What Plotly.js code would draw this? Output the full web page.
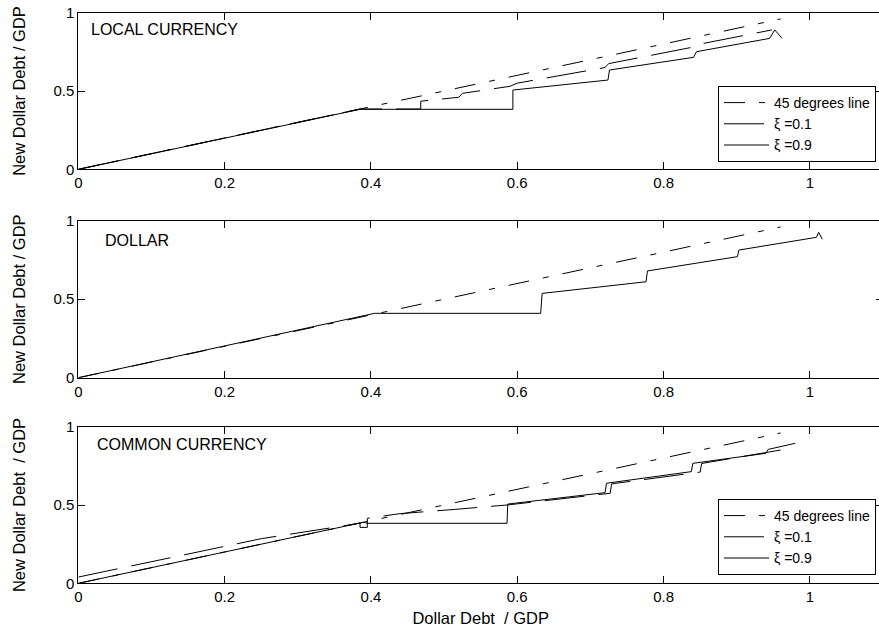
<!DOCTYPE html>
<html>
<head>
<meta charset="utf-8">
<script src="https://cdn.plot.ly/plotly-3.0.1.min.js"></script>
<style>
html, body { margin: 0; padding: 0; overflow: hidden; background: #fff; }
#chart { width: 884px; height: 631px; }
</style>
</head>
<body>
<div id="chart"></div>
<script>
// ---- data ----
const panelTitles = ["LOCAL CURRENCY", "DOLLAR", "COMMON CURRENCY"];
const legendNames = ["45 degrees line", "\u03BE =0.1", "\u03BE =0.9"];
const xTickVals = [0, 0.2, 0.4, 0.6, 0.8, 1];
const xTickText = ["0", "0.2", "0.4", "0.6", "0.8", "1"];
const yTickVals = [0, 0.5, 1];
const yTickText = ["0", "0.5", "1"];

// Panel 1: local currency
const local45X = [0, 0.96];
const local45Y = [0, 0.96];
const localXi01X = [0, 0.385, 0.468, 0.468, 0.52, 0.525, 0.59, 0.60, 0.72, 0.725, 0.84, 0.845, 0.948];
const localXi01Y = [0, 0.385, 0.385, 0.435, 0.46, 0.485, 0.53, 0.55, 0.65, 0.675, 0.78, 0.795, 0.89];
const localXi09X = [0, 0.385, 0.594, 0.594, 0.724, 0.726, 0.841, 0.845, 0.945, 0.952, 0.962];
const localXi09Y = [0, 0.383, 0.383, 0.506, 0.57, 0.634, 0.715, 0.751, 0.836, 0.89, 0.836];

// Panel 2: dollar
const dollar45X = [0, 0.96];
const dollar45Y = [0, 0.96];
const dollarXiX = [0, 0.405, 0.632, 0.634, 0.776, 0.778, 0.901, 0.903, 1.009, 1.012, 1.017];
const dollarXiY = [0, 0.41, 0.41, 0.537, 0.611, 0.68, 0.771, 0.813, 0.894, 0.926, 0.882];

// Panel 3: common currency
const common45X = [0, 0.96];
const common45Y = [0, 0.96];
const commonXi01X = [0, 0.25, 0.36, 0.385, 0.385, 0.395, 0.395, 0.44, 0.515, 0.54, 0.586, 0.727, 0.729, 0.85, 0.852, 0.96];
const commonXi01Y = [0.04, 0.285, 0.365, 0.385, 0.357, 0.357, 0.415, 0.445, 0.472, 0.483, 0.50, 0.575, 0.635, 0.71, 0.765, 0.851];
const commonXi09X = [0, 0.39, 0.395, 0.586, 0.587, 0.72, 0.722, 0.838, 0.84, 0.94, 0.943, 0.98];
const commonXi09Y = [0, 0.39, 0.383, 0.383, 0.506, 0.579, 0.639, 0.713, 0.766, 0.83, 0.855, 0.894];

// ---- styles ----
const FONT = "Liberation Sans, Arial, sans-serif";
const dash45 = "21px,14px,6px,14px";
const dashXi01 = "40px,14px";
const lineCol = "#000";

function tr(x, y, name, dash, xa, ya, leg, show) {
  return {
    x: x, y: y, name: name, type: "scatter", mode: "lines",
    line: { color: lineCol, width: 1, dash: dash },
    xaxis: xa, yaxis: ya, legend: leg, showlegend: show, hoverinfo: "skip"
  };
}

const traces = [
  tr(local45X, local45Y, legendNames[0], dash45, "x", "y", "legend", true),
  tr(localXi01X, localXi01Y, legendNames[1], dashXi01, "x", "y", "legend", true),
  tr(localXi09X, localXi09Y, legendNames[2], "solid", "x", "y", "legend", true),
  tr(dollar45X, dollar45Y, legendNames[0], dash45, "x2", "y2", "legend", false),
  tr(dollarXiX, dollarXiY, legendNames[2], "solid", "x2", "y2", "legend", false),
  tr(common45X, common45Y, legendNames[0], dash45, "x3", "y3", "legend2", true),
  tr(commonXi01X, commonXi01Y, legendNames[1], dashXi01, "x3", "y3", "legend2", true),
  tr(commonXi09X, commonXi09Y, legendNames[2], "solid", "x3", "y3", "legend2", true)
];

const W = 884, H = 631;
const xDom = [78.4 / W, 883 / W];
const yDoms = [
  [1 - 169.3 / H, 1 - 12.7 / H],
  [1 - 377.7 / H, 1 - 220.7 / H],
  [1 - 583.3 / H, 1 - 426.7 / H]
];

function xax(anchor, withTitle) {
  const a = {
    domain: xDom, anchor: anchor, range: [0, 1.1],
    tickmode: "array", tickvals: xTickVals, ticktext: xTickText,
    ticks: "inside", ticklen: 7, tickwidth: 1, tickcolor: "#000",
    showline: true, linecolor: "#000", linewidth: 1, mirror: "ticks",
    showgrid: false, zeroline: false, automargin: false,
    tickfont: { family: FONT, size: 15, color: "#000" }
  };
  if (withTitle) {
    a.title = { text: "Dollar Debt\u00A0 / GDP", font: { family: FONT, size: 16.5, color: "#000" }, standoff: 8 };
  }
  return a;
}
function yax(anchor, dom, titleText) {
  return {
    domain: dom, anchor: anchor, range: [0, 1],
    tickmode: "array", tickvals: yTickVals, ticktext: yTickText,
    ticks: "inside", ticklen: 7, tickwidth: 1, tickcolor: "#000",
    showline: true, linecolor: "#000", linewidth: 1, mirror: "ticks",
    showgrid: false, zeroline: false, automargin: false,
    tickfont: { family: FONT, size: 15, color: "#000" },
    title: { text: titleText, font: { family: FONT, size: 16.5, color: "#000" }, standoff: 23 }
  };
}

const legendStyle = {
  font: { family: FONT, size: 14, color: "#000" },
  bgcolor: "#fff", bordercolor: "#000", borderwidth: 1,
  xanchor: "right", yanchor: "bottom", traceorder: "normal",
  itemwidth: 45
};

const layout = {
  width: W, height: H,
  margin: { l: 0, r: 0, t: 0, b: 0, pad: 0 },
  paper_bgcolor: "#fff", plot_bgcolor: "#fff",
  font: { family: FONT, size: 15, color: "#000" },
  xaxis: xax("y", false),
  xaxis2: xax("y2", false),
  xaxis3: xax("y3", true),
  yaxis: yax("x", yDoms[0], "New Dollar Debt / GDP"),
  yaxis2: yax("x2", yDoms[1], "New Dollar Debt / GDP"),
  yaxis3: yax("x3", yDoms[2], "New Dollar Debt\u00A0 / GDP"),
  legend: Object.assign({ x: 876 / W, y: 1 - 162 / H }, legendStyle),
  legend2: Object.assign({ x: 876 / W, y: 1 - 575 / H }, legendStyle),
  annotations: [
    { text: panelTitles[0], xref: "paper", yref: "paper", x: 89 / W, y: 1 - 30 / H, xanchor: "left", yanchor: "middle", showarrow: false, font: { family: FONT, size: 16, color: "#000" } },
    { text: panelTitles[1], xref: "paper", yref: "paper", x: 103 / W, y: 1 - 240 / H, xanchor: "left", yanchor: "middle", showarrow: false, font: { family: FONT, size: 16, color: "#000" } },
    { text: panelTitles[2], xref: "paper", yref: "paper", x: 95 / W, y: 1 - 444 / H, xanchor: "left", yanchor: "middle", showarrow: false, font: { family: FONT, size: 16, color: "#000" } }
  ],
  showlegend: true
};

Plotly.newPlot("chart", traces, layout, { displayModeBar: false, staticPlot: true });
</script>
</body>
</html>
